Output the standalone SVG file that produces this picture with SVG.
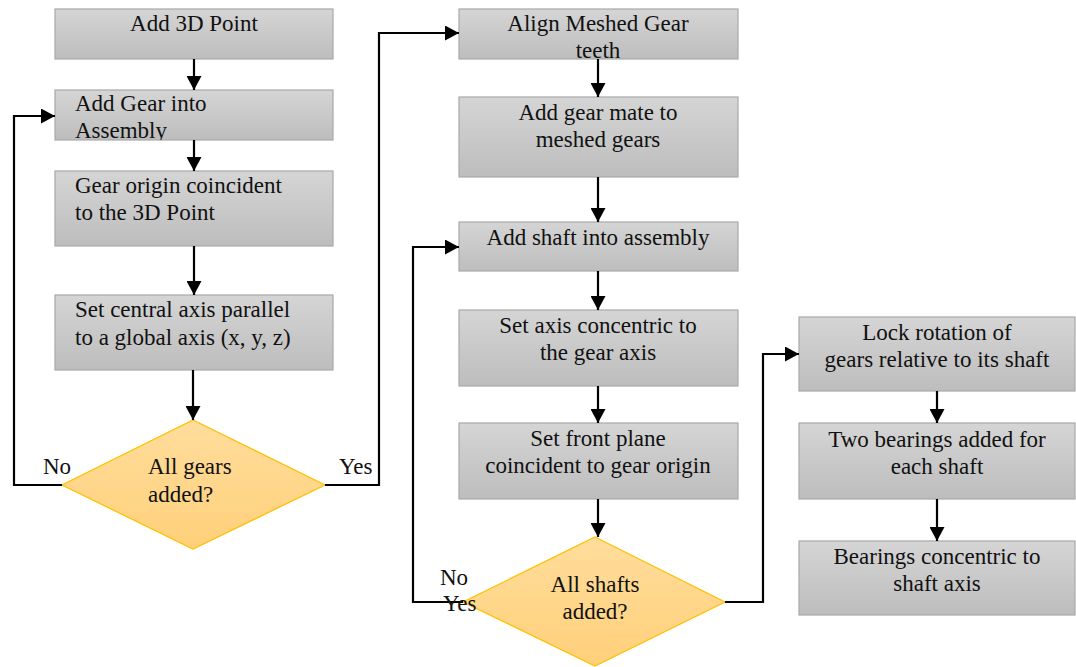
<svg xmlns="http://www.w3.org/2000/svg" width="1076" height="667" viewBox="0 0 1076 667">
<defs>
<linearGradient id="gBox" x1="0" y1="0" x2="0" y2="1">
<stop offset="0" stop-color="#D5D5D5"/>
<stop offset="1" stop-color="#BDBDBD"/>
</linearGradient>
<linearGradient id="gDia" x1="0" y1="0" x2="0" y2="1">
<stop offset="0" stop-color="#FFDD9C"/>
<stop offset="1" stop-color="#FFD07A"/>
</linearGradient>
<marker id="arr" markerUnits="userSpaceOnUse" markerWidth="14" markerHeight="15" refX="14" refY="7.5" orient="auto">
<path d="M0,0 L14,7.5 L0,15 z" fill="#000"/>
</marker>
<clipPath id="clipB2"><rect x="55" y="90" width="278" height="50"/></clipPath>
</defs>
<style>
.box{fill:url(#gBox);stroke:#A8A8A8;stroke-width:1.2}
.dia{fill:url(#gDia);stroke:#FFC000;stroke-width:1.3}
.c{text-anchor:middle}
.con path{fill:none;stroke:#000;stroke-width:2.2}
.con path.a{marker-end:url(#arr)}
</style>
<rect width="1076" height="667" fill="#fff"/>
<g font-family="'Liberation Serif', 'DejaVu Serif', 'Times New Roman', serif" font-size="23" fill="#111">
<g id="n1"><rect class="box" x="55" y="9" width="278" height="50"/><text class="c" x="194" y="31">Add 3D Point</text></g>
<g id="n2"><rect class="box" x="55" y="90" width="278" height="50"/><g clip-path="url(#clipB2)"><text x="75" y="111">Add Gear into</text><text x="75" y="138">Assembly</text></g></g>
<g id="n3"><rect class="box" x="55" y="171" width="278" height="75"/><text x="75" y="193">Gear origin coincident</text><text x="75" y="220">to the 3D Point</text></g>
<g id="n4"><rect class="box" x="55" y="295" width="278" height="75"/><text x="75" y="317">Set central axis parallel</text><text x="75" y="345">to a global axis (x, y, z)</text></g>
<g id="d1"><polygon class="dia" points="193,420 325,485 193,549 62,485"/><text x="148" y="474">All gears</text><text x="148" y="502">added?</text></g>

<g id="n5"><rect class="box" x="459" y="9" width="279" height="50"/><text class="c" x="598" y="31">Align Meshed Gear</text><text class="c" x="598" y="58">teeth</text></g>
<g id="n6"><rect class="box" x="459" y="97" width="279" height="80"/><text class="c" x="598" y="120">Add gear mate to</text><text class="c" x="598" y="147">meshed gears</text></g>
<g id="n7"><rect class="box" x="459" y="222" width="279" height="49"/><text class="c" x="598" y="245">Add shaft into assembly</text></g>
<g id="n8"><rect class="box" x="459" y="310" width="279" height="76"/><text class="c" x="598" y="333">Set axis concentric to</text><text class="c" x="598" y="360">the gear axis</text></g>
<g id="n9"><rect class="box" x="459" y="423" width="279" height="76"/><text class="c" x="598" y="446">Set front plane</text><text class="c" x="598" y="473">coincident to gear origin</text></g>
<g id="d2"><polygon class="dia" points="595,537 725,602 595,666 463,602"/><text class="c" x="595" y="592">All shafts</text><text class="c" x="595" y="619">added?</text></g>

<g id="n10"><rect class="box" x="799" y="317" width="276" height="74"/><text class="c" x="937" y="340">Lock rotation of</text><text class="c" x="937" y="367">gears relative to its shaft</text></g>
<g id="n11"><rect class="box" x="799" y="423" width="276" height="76"/><text class="c" x="937" y="447">Two bearings added for</text><text class="c" x="937" y="474">each shaft</text></g>
<g id="n12"><rect class="box" x="799" y="541" width="276" height="74"/><text class="c" x="937" y="564">Bearings concentric to</text><text class="c" x="937" y="591">shaft axis</text></g>

<g id="connectors" class="con">
<path class="a" d="M194,59 V90"/>
<path class="a" d="M194,140 V171"/>
<path class="a" d="M194,246 V295"/>
<path class="a" d="M193,370 V420"/>
<path class="a" d="M62,485 H14 V116 H55"/>
<path class="a" d="M325,485 H379 V33 H459"/>
<path class="a" d="M598,59 V97"/>
<path class="a" d="M598,177 V222"/>
<path class="a" d="M598,271 V310"/>
<path class="a" d="M598,386 V423"/>
<path class="a" d="M598,499 V537"/>
<path class="a" d="M463,602 H413 V247 H459"/>
<path class="a" d="M725,602 H763 V354 H799"/>
<path class="a" d="M937,391 V423"/>
<path class="a" d="M937,499 V541"/>
</g>
<g id="labels">
<text x="43" y="474">No</text>
<text x="339" y="474">Yes</text>
<text x="440" y="585">No</text>
<text x="443" y="611">Yes</text>
</g>
</g>
</svg>
